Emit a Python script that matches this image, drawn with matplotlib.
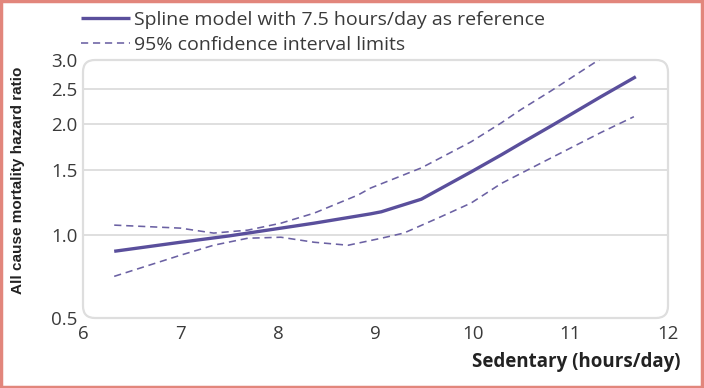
import numpy as np
import matplotlib
matplotlib.use("Agg")
import matplotlib.pyplot as plt
from matplotlib.patches import FancyBboxPatch, Rectangle

# ---- data ----
hours_fit = [6.32, 7.00, 7.50, 7.69, 8.37, 8.95, 9.06, 9.47, 9.98, 10.29, 10.49, 10.80, 11.31, 11.67]
hr_fit = [0.871, 0.939, 0.99, 1.01, 1.075, 1.14, 1.155, 1.25, 1.484, 1.652, 1.775, 1.98, 2.38, 2.70]

hours_upper = [6.32, 7.00, 7.34, 7.69, 8.03, 8.37, 8.82, 8.95, 9.47, 9.98, 10.29, 10.49, 10.80, 11.33]
hr_upper = [1.062, 1.042, 1.01, 1.029, 1.075, 1.145, 1.283, 1.341, 1.522, 1.793, 2.02, 2.195, 2.47, 3.05]

hours_lower = [6.32, 7.00, 7.34, 7.69, 8.03, 8.37, 8.72, 9.06, 9.29, 9.64, 9.98, 10.29, 10.80, 11.31, 11.65]
hr_lower = [0.707, 0.843, 0.916, 0.971, 0.979, 0.939, 0.916, 0.971, 1.01, 1.11, 1.22, 1.38, 1.62, 1.90, 2.10]

x_ticks = [6, 7, 8, 9, 10, 11, 12]
y_ticks = [0.5, 1.0, 1.5, 2.0, 2.5, 3.0]
grid_vals = [1.0, 1.5, 2.0, 2.5]

label_fit = "Spline model with 7.5 hours/day as reference"
label_ci = "95% confidence interval limits"

# ---- scale: log above 1, compressed log below 1 ----
C = 0.756

def fwd(y):
    y = np.maximum(np.asarray(y, dtype=float), 1e-9)
    l = np.log(y)
    return np.where(l >= 0, l, C * l)

def inv(t):
    t = np.asarray(t, dtype=float)
    return np.where(t >= 0, np.exp(t), np.exp(t / C))

line_col = "#5a4f9c"
dash_col = "#6b61a3"
grid_col = "#dcdcdc"
text_col = "#3a3a3a"
font = ["Open Sans", "DejaVu Sans"]

fig = plt.figure(figsize=(7.04, 3.88), dpi=100)
W, H = 704, 388
ax = fig.add_axes([83 / W, 1 - 318 / H, (668 - 83) / W, (318 - 60) / H])
ax.set_yscale("function", functions=(fwd, inv))
ax.set_xlim(6, 12)
ax.set_ylim(0.5, 3.0)

for g in grid_vals:
    ax.axhline(g, color=grid_col, lw=1.3, zorder=1)

h1, = ax.plot(hours_fit, hr_fit, color=line_col, lw=2.4, solid_capstyle="butt",
              solid_joinstyle="round", zorder=3)
h2, = ax.plot(hours_upper, hr_upper, color=dash_col, lw=1.15, dashes=(4.5, 3), zorder=3)
ax.plot(hours_lower, hr_lower, color=dash_col, lw=1.15, dashes=(4.5, 3), zorder=3)

for s in ax.spines.values():
    s.set_visible(False)

frame = FancyBboxPatch((0, 0), 1, 1, boxstyle="round,pad=0,rounding_size=0.0205",
                       transform=ax.transAxes, mutation_aspect=585 / 258,
                       fill=False, ec="#dedede", lw=1.6, clip_on=False, zorder=2)
ax.add_patch(frame)

ax.set_xticks(x_ticks)
ax.set_xticklabels([str(v) for v in x_ticks], fontfamily=font, fontsize=13.5, color=text_col)
ax.set_xticks(x_ticks[1:-1], minor=True)
ax.tick_params(axis="x", which="major", length=0, pad=5)
ax.tick_params(axis="x", which="minor", direction="in", length=6, width=1.2, color="#d0d0d0")
ax.set_yticks(y_ticks)
ax.set_yticks([], minor=True)
ax.set_yticklabels([f"{v:.1f}" for v in y_ticks], fontfamily=font, fontsize=13.5, color=text_col)
ax.tick_params(axis="y", which="both", length=0, pad=4)

fig.text(18 / W, 1 - 180 / H, "All cause mortality hazard ratio", rotation=90,
         ha="center", va="center", fontsize=11, fontweight="bold",
         fontfamily=["Liberation Sans", "DejaVu Sans"], color="#222222")
fig.text(681 / W, 1 - 362 / H, "Sedentary (hours/day)", ha="right", va="center",
         fontsize=13.5, fontweight="bold", fontfamily=font, color="#222222")

leg = fig.legend([h1, h2], [label_fit, label_ci], loc="upper left",
                 bbox_to_anchor=(81 / W, 1 - 11 / H), frameon=False,
                 borderaxespad=0, borderpad=0, handlelength=2.5, handletextpad=0.25,
                 labelspacing=0.35, prop={"family": font, "size": 14})
for t in leg.get_texts():
    t.set_color(text_col)

fig.patches.append(Rectangle((0.002, 0.003), 0.995, 0.994, transform=fig.transFigure,
                             fill=False, ec="#e2867c", lw=2.5))

fig.savefig("out.png", dpi=100, facecolor="white")
